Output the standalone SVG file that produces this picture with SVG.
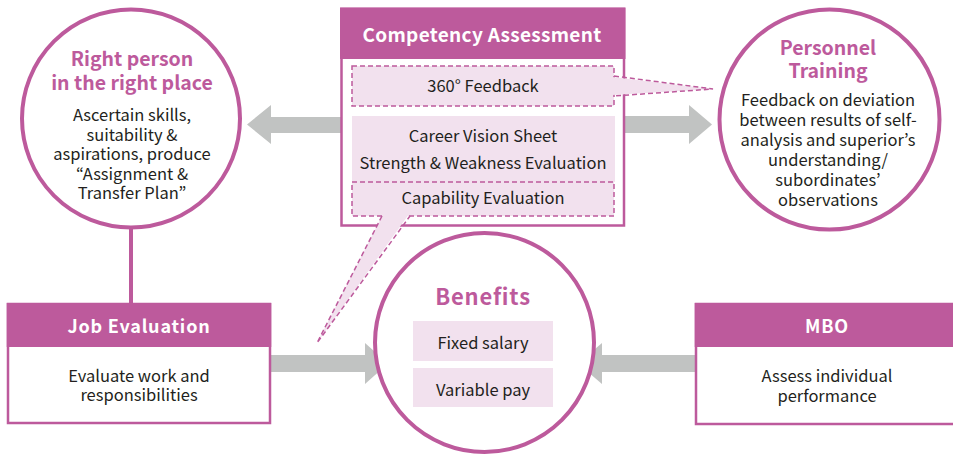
<svg xmlns="http://www.w3.org/2000/svg" width="953" height="456" viewBox="0 0 953 456">
<style>
text{font-family:"Noto Sans CJK JP","Source Sans Pro","Noto Sans",sans-serif;text-anchor:middle;fill:#231f20;font-size:16.5px}
.ttl{font-weight:bold;fill:#bd5a9c;font-size:19.5px}
.big{font-size:22px;letter-spacing:0.8px}
.hdr{font-weight:bold;fill:#ffffff;font-size:18px;letter-spacing:0.8px}
.hdr2{font-size:19px;letter-spacing:0.3px}
.circ{fill:#ffffff;stroke:#bd5a9c;stroke-width:4}
.box{fill:#ffffff;stroke:#bd5a9c;stroke-width:2.5}
.head{fill:#bd5a9c}
.pink{fill:#f2e1ee}
.dash{fill:#f2e1ee;stroke:#bd5a9c;stroke-width:1.5;stroke-dasharray:5 3}
.dl{fill:none;stroke:#bd5a9c;stroke-width:1.5;stroke-dasharray:5 3}
.arr{fill:#c1c3c2}
</style>
<g id="connectors">
<line x1="131" y1="227" x2="131" y2="304" stroke="#bd5a9c" stroke-width="4"/>
<polygon class="arr" points="341,117 271,117 271,105 247,124.5 271,144 271,133 341,133"/>
<polygon class="arr" points="624,116 689,116 689,105 712,124.5 689,144 689,133 624,133"/>
<polygon class="arr" points="270,355 365,355 365,343 388,363.5 365,384 365,372 270,372"/>
<polygon class="arr" points="696,355 602,355 602,343 578,363.5 602,384 602,372 696,372"/>
</g>
<g id="right-person">
<circle class="circ" cx="131" cy="118.5" r="109"/>
<text class="ttl" x="132" y="66">Right person</text>
<text class="ttl" x="132" y="90">in the right place</text>
<text x="132" y="121">Ascertain skills,</text>
<text x="132" y="141">suitability &amp;</text>
<text x="132" y="160">aspirations, produce</text>
<text x="132" y="180">“Assignment &amp;</text>
<text x="132" y="199">Transfer Plan”</text>
</g>
<g id="personnel-training">
<circle class="circ" cx="829.5" cy="119.5" r="110"/>
<text class="ttl" x="828" y="55">Personnel</text>
<text class="ttl" x="828" y="78">Training</text>
<text x="828" y="106">Feedback on deviation</text>
<text x="828" y="126">between results of self-</text>
<text x="828" y="146">analysis and superior’s</text>
<text x="828" y="166">understanding/</text>
<text x="828" y="186">subordinates’</text>
<text x="828" y="206">observations</text>
</g>
<g id="benefits">
<circle class="circ" cx="484.5" cy="342.5" r="109.5"/>
<text class="ttl big" x="483" y="305">Benefits</text>
<rect class="pink" x="413" y="321" width="140" height="40"/>
<rect class="pink" x="413" y="368" width="140" height="39"/>
<text x="483" y="349">Fixed salary</text>
<text x="483" y="396">Variable pay</text>
</g>
<g id="job-evaluation">
<rect class="box" x="8" y="304" width="262" height="119"/>
<rect class="head" x="6.75" y="303" width="264.5" height="44"/>
<text class="hdr" x="139" y="333">Job Evaluation</text>
<text x="139" y="382">Evaluate work and</text>
<text x="139" y="401">responsibilities</text>
</g>
<g id="mbo">
<rect class="box" x="696" y="304" width="270" height="120"/>
<rect class="head" x="694.75" y="303" width="272" height="44"/>
<text class="hdr" x="827" y="333">MBO</text>
<text x="827" y="382">Assess individual</text>
<text x="827" y="402">performance</text>
</g>
<g id="competency-assessment">
<rect class="box" x="341.5" y="9" width="282.5" height="216.5" stroke-width="3"/>
<rect class="head" x="340" y="7.5" width="285.5" height="51.5"/>
<text class="hdr hdr2" x="482" y="42">Competency Assessment</text>
<rect class="dash" x="352" y="66" width="262" height="40"/>
<rect class="pink" x="352" y="116" width="263" height="66"/>
<rect class="dash" x="352" y="182" width="262" height="34"/>
<text x="483" y="92">360° Feedback</text>
<text x="483" y="142">Career Vision Sheet</text>
<text x="483" y="169">Strength &amp; Weakness Evaluation</text>
<text x="483" y="204">Capability Evaluation</text>
<polygon class="pink" points="612,77 713,89 612,95"/>
<path class="dl" d="M614,76 L713,89 L614,96"/>
<polygon class="pink" points="383,214 409,214 317,343"/>
<path class="dl" d="M382,216 L317,343 L410,216"/>
</g>
</svg>
